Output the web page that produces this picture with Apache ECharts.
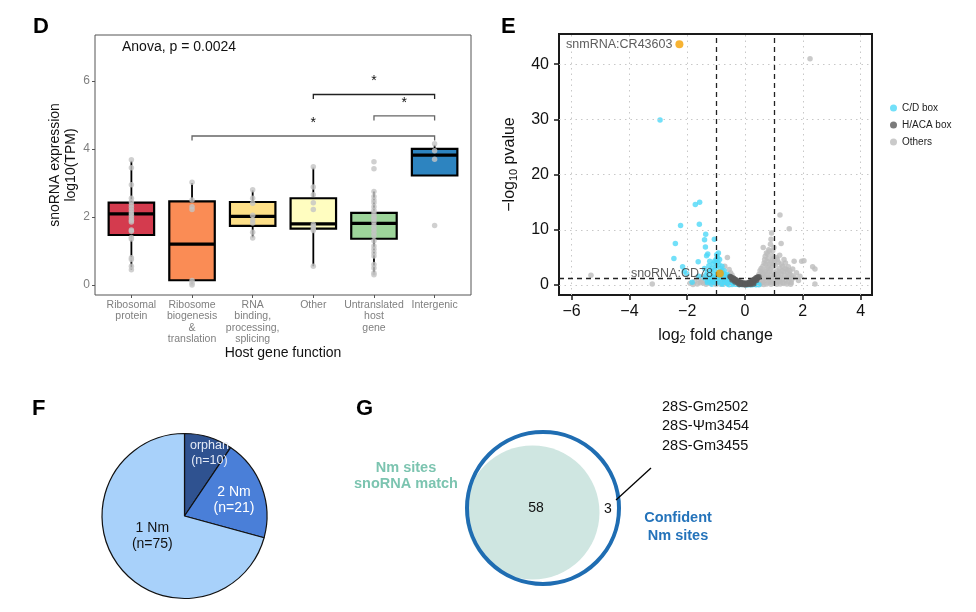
<!DOCTYPE html>
<html><head><meta charset="utf-8">
<script src="https://cdn.jsdelivr.net/npm/echarts@6/dist/echarts.min.js"></script>
<style>html,body{margin:0;padding:0;background:#fff}#c{width:976px;height:612px}</style>
</head><body><div id="c"></div><script>
// ---------- Panel D data ----------
const hostCategories = ['Ribosomal\nprotein', 'Ribosome\nbiogenesis\n&\ntranslation', 'RNA\nbinding,\nprocessing,\nsplicing', 'Other', 'Untranslated\nhost\ngene', 'Intergenic'];
// [lower whisker, Q1, median, Q3, upper whisker]
const boxStats = [
  [0.45, 1.47, 2.09, 2.42, 3.65],
  [0.02, 0.14, 1.20, 2.46, 3.00],
  [1.40, 1.74, 2.02, 2.44, 2.78],
  [0.55, 1.66, 1.80, 2.55, 3.45],
  [0.30, 1.36, 1.81, 2.12, 2.75],
  [3.22, 3.22, 3.82, 4.00, 4.12]
];
const boxColors = ['#D43B4E', '#FA8C55', '#FDDF88', '#FFFDC0', '#9DD49A', '#2D84C0'];
const groupPoints = [
  [3.68, 3.45, 2.95, 2.55, 2.45, 2.35, 2.28, 2.2, 2.12, 2.05, 1.98, 1.9, 1.85, 1.62, 1.58, 1.4, 1.35, 0.8, 0.75, 0.55, 0.45],
  [3.02, 2.5, 2.3, 2.22, 0.13, 0.05, 0.0],
  [2.8, 2.55, 2.4, 2.05, 1.92, 1.82, 1.55, 1.38],
  [3.48, 2.88, 2.65, 2.42, 2.22, 1.78, 1.72, 1.65, 1.6, 0.55],
  [3.62, 3.42, 2.75, 2.6, 2.5, 2.42, 2.3, 2.2, 2.12, 2.02, 1.95, 1.85, 1.75, 1.65, 1.55, 1.45, 1.3, 1.15, 1.05, 0.95, 0.85, 0.6, 0.5, 0.35, 0.3],
  [4.15, 3.95, 3.7, 1.75]
];
// significance comparisons: [from group, to group, bracket height, label]
const comparisons = [
  [2, 6, 4.38, '*'],
  [5, 6, 4.97, '*'],
  [4, 6, 5.60, '*']
];
const yTicksD = [0, 2, 4, 6];

// ---------- Panel E data ----------
const othersData = [
  [2.25,41.0],[-5.33,1.75],[-3.21,0.2],[1.21,12.7],[1.53,10.2],[1.25,7.5],[0.92,9.4],[0.9,8.3],[0.63,6.8],[0.85,6.1],[0.78,5.6],[0.95,5.3],[1.7,4.3],[1.96,4.3],[2.04,4.4],[2.34,3.3],[2.42,2.9],[2.42,0.2],[-0.61,5.0],[-0.7,3.4],
  [0.45,0.5],[0.5,0.9],[0.55,1.3],[0.6,1.7],[0.65,2.1],[0.7,2.5],[0.75,2.9],[0.8,3.3],[0.85,3.7],[0.9,4.1],[0.95,4.5],[1.0,4.9],[0.6,0.3],[0.7,0.8],[0.8,1.3],[0.9,1.8],[1.0,2.2],[1.1,2.6],[1.2,3.0],[1.3,3.4],[0.75,0.2],[0.9,0.6],[1.05,1.1],[1.15,1.5],[1.25,2.0],[1.35,2.4],[1.45,2.8],[1.0,0.3],[1.2,0.7],[1.3,1.1],[1.45,1.5],[1.55,2.0],[1.1,0.15],[1.35,0.25],[1.5,0.6],[1.62,1.0],[0.72,3.8],[0.76,4.3],[0.8,4.8],[1.05,3.6],[1.15,4.1],[1.08,5.0],[0.96,6.2],[1.4,4.0],[1.5,3.3],[1.65,2.9],[1.78,2.2],[1.7,1.4],[1.85,0.8],[1.6,0.4],[1.9,1.6],[0.55,0.2],[0.35,0.3],[0.4,0.8],[0.5,1.5],[0.58,2.4],[1.25,3.8],[1.35,4.6],[1.2,5.4],[1.0,6.8],[0.88,7.4],
  [0.35,0.6],[0.42,1.0],[0.48,1.9],[0.52,2.6],[0.56,3.0],[0.62,3.4],[0.66,4.0],[0.68,4.6],[0.7,5.2],[0.74,5.8],[0.82,6.4],[0.62,0.6],[0.68,1.2],[0.74,1.6],[0.78,2.0],[0.84,2.4],[0.88,2.8],[0.94,3.2],[0.98,3.8],[1.02,4.3],[1.12,4.6],[0.82,0.4],[0.86,1.0],[0.96,1.4],[1.02,1.7],[1.08,2.0],[1.18,2.3],[1.28,2.6],[1.38,3.0],[1.08,0.5],[1.18,1.0],[1.25,1.4],[1.38,1.8],[1.48,2.3],[1.55,2.6],[1.3,0.4],[1.42,0.9],[1.55,1.3],[1.62,1.7],[1.45,0.2],[0.65,0.1],[0.9,0.15],[1.22,0.2],[1.58,0.15],
  [-1.65,0.2],[-1.45,0.35],[-1.3,0.55],[-1.15,0.8],[-1.5,0.7],[-1.35,0.15],[-1.0,0.1],[-0.8,0.15],[-0.55,0.7],[-0.6,0.3],[-0.5,2.2],[-0.55,2.8],[-0.45,1.8],
  [-1.9,0.3],[-1.75,0.6],[-1.6,1.0],[-1.45,1.5],[-1.8,0.1],[-1.55,0.4],[-1.2,0.3],[-1.1,0.5],[-0.95,0.8],[-0.85,0.4],[-0.7,0.7],[-0.65,1.2],[-0.55,1.6]
];
const cdBoxData = [
  [-2.94,29.9],[-1.72,14.6],[-1.57,15.0],[-2.23,10.8],[-1.58,11.0],[-1.36,9.2],[-1.06,8.3],[-1.4,8.2],[-2.41,7.5],[-1.37,6.9],[-0.92,5.8],[-1.29,5.6],[-1.33,5.3],[-2.46,4.8],[-1.62,4.2],[-1.22,4.3],[-2.16,3.3],[-2.02,2.1],[-2.1,2.5],[-1.83,0.5],[-1.4,3.0],[-1.6,1.6],
  [-1.0,4.6],[-0.95,4.1],[-0.9,3.7],[-1.0,3.3],[-0.85,3.0],[-1.05,2.7],[-0.8,2.6],[-0.92,2.3],[-0.74,2.1],[-1.1,2.0],[-0.68,1.8],[-0.82,1.6],[-1.0,1.45],[-0.64,1.4],[-0.9,1.15],[-0.58,1.1],[-1.2,1.0],[-0.75,0.9],[-0.52,0.85],[-1.3,0.7],[-0.92,0.6],[-0.48,0.6],[-0.7,0.4],[-0.4,0.35],[-1.05,0.35],[-0.6,0.2],[-0.3,0.15],[-0.45,0.1],[0.15,0.05],[0.3,0.15],[0.38,0.05],[-1.4,1.25],[-1.15,1.5],[-0.2,0.05],[0.05,0.0],[0.25,0.05],
  [-1.3,0.4],[-1.2,0.6],[-1.25,1.4],[-1.35,1.8],[-1.3,2.3],[-1.2,2.6],[-1.15,3.0],[-1.25,3.5],[-1.1,3.8],[-1.05,4.3],[-0.95,5.0],[-0.98,5.5],[-0.88,4.6],[-0.8,3.4],[-0.72,2.6],[-0.62,1.9],[-0.55,1.5],[-0.45,1.0],[-0.38,0.8],[-0.3,0.5],[-0.2,0.3],[-0.1,0.1],[0.0,0.15],[0.2,0.1],[0.42,0.2],[0.48,0.05],[-0.85,0.2],[-0.75,0.15],[-0.55,0.05],[-1.15,0.15],[-0.95,1.9],[-0.88,1.4],[-0.78,1.2],[-0.7,1.0],[-1.05,1.2],[-1.1,0.9],[-0.62,0.7],[-0.35,0.2]
];
const hacaBoxData = [
  [-0.5,1.4],[-0.46,1.25],[-0.42,1.1],[-0.38,0.95],[-0.34,0.8],[-0.29,0.65],[-0.23,0.5],[-0.17,0.38],[-0.11,0.27],[-0.05,0.18],[0,0.12],[0.05,0.14],[0.1,0.2],[0.15,0.3],[0.2,0.42],[0.25,0.56],[0.3,0.72],[0.34,0.9],[0.38,1.05],[0.42,1.2],[0.46,1.3],[-0.35,0.55],[-0.25,0.35],[-0.15,0.2],[0.2,0.25],[0.3,0.45],[-0.45,0.9],[0.4,0.8],[-0.1,0.1],[0.1,0.1],
  [-0.52,1.55],[-0.48,1.45],[-0.4,1.25],[-0.36,1.1],[-0.31,0.95],[-0.26,0.78],[-0.2,0.62],[-0.14,0.5],[-0.08,0.4],[0,0.35],[0.08,0.38],[0.14,0.48],[0.19,0.6],[0.24,0.75],[0.29,0.92],[0.33,1.1],[0.38,1.3],[0.43,1.45],[0.48,1.5],[-0.2,0.1],[0.2,0.1],[0,0],[0.3,0.2]
];
const highlightData = [[-2.27, 43.6, 'snmRNA:CR43603'], [-0.87, 2.1, 'snoRNA:CD78']];
const xTicksE = [-6, -4, -2, 0, 2, 4];
const yTicksE = [0, 10, 20, 30, 40];
const fcCutoffs = [-1, 1];
const pCutoff = 1.3;

// ---------- Panel F data ----------
const pieNames = ['orphan', '2 Nm', '1 Nm'];
const pieCounts = [10, 21, 75];
const pieColors = ['#2F5290', '#4A7FD8', '#A8D1FA'];

// ---------- Panel G data ----------
const vennCounts = { matched: 58, unmatched: 3 };
const unmatchedSites = ['28S-Gm2502', '28S-\u03A8m3454', '28S-Gm3455'];

const FONT = '"Liberation Sans", Arial, Helvetica, sans-serif';
const chart = echarts.init(document.getElementById('c'), null, { renderer: 'canvas' });

const boxWidth = 0.75;
const option = {
  animation: false,
  backgroundColor: '#ffffff',
  textStyle: { fontFamily: FONT },
  grid: [
    { left: 95, top: 35, width: 376, height: 260, show: true, borderColor: '#555', borderWidth: 1, backgroundColor: 'rgba(0,0,0,0)' },
    { left: 559, top: 34, width: 313, height: 261, show: true, borderColor: '#1a1a1a', borderWidth: 2, backgroundColor: 'rgba(0,0,0,0)' },
    { left: 440, top: 420, width: 200, height: 180, show: false }
  ],
  xAxis: [
    {
      gridIndex: 0, type: 'value', min: 0.4, max: 6.6,
      axisLine: { show: false, onZero: false }, splitLine: { show: false },
      axisTick: { show: true, customValues: [1, 2, 3, 4, 5, 6], length: 3, lineStyle: { color: '#555' } },
      axisLabel: { customValues: [1, 2, 3, 4, 5, 6], formatter: v => hostCategories[Math.round(v) - 1], color: '#7f7f7f', fontSize: 10.5, lineHeight: 11.5, margin: 4 },
      name: 'Host gene function', nameLocation: 'middle', nameGap: 49,
      nameTextStyle: { fontSize: 14, color: '#111' }
    },
    {
      gridIndex: 1, type: 'value', min: -6.436, max: 4.394,
      axisLine: { show: false, onZero: false }, splitLine: { show: false },
      axisTick: { show: true, customValues: xTicksE, length: 5, lineStyle: { color: '#1a1a1a', width: 1.5 } },
      axisLabel: { customValues: xTicksE, formatter: v => String(v).replace('-', '\u2212'), color: '#111', fontSize: 16, margin: 9 },
      name: '{n|log}{s|2}{n| fold change}', nameLocation: 'middle', nameGap: 31,
      nameTextStyle: { rich: { n: { fontSize: 16, color: '#111' }, s: { fontSize: 11, color: '#111', padding: [8, 0, 0, 0] } } }
    },
    { gridIndex: 2, type: 'value', min: 0, max: 200, show: false }
  ],
  yAxis: [
    {
      gridIndex: 0, type: 'value', min: -0.294, max: 7.35,
      axisLine: { show: false, onZero: false }, splitLine: { show: false },
      axisTick: { show: true, customValues: yTicksD, length: 3, lineStyle: { color: '#555' } },
      axisLabel: { customValues: yTicksD, color: '#7f7f7f', fontSize: 12, margin: 5 },
      name: 'snoRNA expression\nlog10(TPM)', nameLocation: 'middle', nameGap: 14,
      nameTextStyle: { fontSize: 14, color: '#111', lineHeight: 16 }
    },
    {
      gridIndex: 1, type: 'value', min: -1.812, max: 45.47,
      axisLine: { show: false, onZero: false }, splitLine: { show: false },
      axisTick: { show: true, customValues: yTicksE, length: 5, lineStyle: { color: '#1a1a1a', width: 1.5 } },
      axisLabel: { customValues: yTicksE, color: '#111', fontSize: 16, margin: 10 },
      name: '{n|\u2212log}{s|10}{n| pvalue}', nameLocation: 'middle', nameGap: 40,
      nameTextStyle: { rich: { n: { fontSize: 16, color: '#111' }, s: { fontSize: 11, color: '#111', padding: [8, 0, 0, 0] } } }
    },
    { gridIndex: 2, type: 'value', min: 0, max: 180, inverse: true, show: false }
  ],
  legend: {
    data: ['C/D box', 'H/ACA box', 'Others'],
    orient: 'vertical', left: 885, top: 98,
    itemWidth: 7, itemHeight: 7, itemGap: 7, icon: 'circle',
    textStyle: { fontSize: 10, color: '#222' }
  },
  series: [
    // ---- D: boxes
    {
      type: 'custom', xAxisIndex: 0, yAxisIndex: 0, z: 2,
      data: boxStats.map((s, i) => [i + 1].concat(s)),
      encode: { x: 0, y: [1, 2, 3, 4, 5] },
      renderItem: function (params, api) {
        const x = api.value(0);
        const lo = api.coord([x, api.value(1)]);
        const q1 = api.coord([x, api.value(2)]);
        const md = api.coord([x, api.value(3)]);
        const q3 = api.coord([x, api.value(4)]);
        const hi = api.coord([x, api.value(5)]);
        const half = api.size([boxWidth, 0])[0] / 2;
        return {
          type: 'group', children: [
            { type: 'line', shape: { x1: lo[0], y1: lo[1], x2: q1[0], y2: q1[1] }, style: { stroke: '#000', lineWidth: 1.8 } },
            { type: 'line', shape: { x1: q3[0], y1: q3[1], x2: hi[0], y2: hi[1] }, style: { stroke: '#000', lineWidth: 1.8 } },
            { type: 'rect', shape: { x: q1[0] - half, y: q3[1], width: 2 * half, height: q1[1] - q3[1] }, style: { fill: boxColors[params.dataIndex], stroke: '#000', lineWidth: 2.2 } },
            { type: 'line', shape: { x1: q1[0] - half, y1: md[1], x2: q1[0] + half, y2: md[1] }, style: { stroke: '#000', lineWidth: 3.2 } }
          ]
        };
      }
    },
    // ---- D: points
    {
      type: 'scatter', xAxisIndex: 0, yAxisIndex: 0, z: 3, symbolSize: 5.5,
      itemStyle: { color: '#C4C4C4' },
      data: groupPoints.flatMap((g, i) => g.map(v => [i + 1, v]))
    },
    // ---- D: significance brackets
    {
      type: 'custom', xAxisIndex: 0, yAxisIndex: 0, z: 3,
      data: comparisons.map(c => [c[0], c[1], c[2]]),
      renderItem: function (params, api) {
        const x1 = api.value(0), x2 = api.value(1), y = api.value(2);
        const a = api.coord([x1, y]), b = api.coord([x2, y]);
        const drop = 4.5;
        const col = params.dataIndex === 2 ? '#222' : '#666';
        return {
          type: 'group', children: [
            { type: 'polyline', shape: { points: [[a[0], a[1] + drop], a, b, [b[0], b[1] + drop]] }, style: { stroke: col, lineWidth: 1.3, fill: null } },
            { type: 'text', style: { text: comparisons[params.dataIndex][3], x: (a[0] + b[0]) / 2, y: a[1] - 6, align: 'center', verticalAlign: 'bottom', fontSize: 14, fill: '#111', font: '14px ' + FONT } }
          ]
        };
      }
    },
    // ---- E: dotted grid lines
    {
      type: 'scatter', xAxisIndex: 1, yAxisIndex: 1, z: 1, data: [], silent: true,
      markLine: {
        silent: true, symbol: 'none', label: { show: false }, animation: false,
        lineStyle: { type: [1.5, 4], color: '#c8c8c8', width: 1 },
        data: xTicksE.map(v => ({ xAxis: v })).concat(yTicksE.map(v => ({ yAxis: v })))
      }
    },
    {
      name: 'Others', type: 'scatter', xAxisIndex: 1, yAxisIndex: 1, z: 3, symbolSize: 5.5,
      itemStyle: { color: '#BDBDBD' }, data: othersData
    },
    {
      name: 'C/D box', type: 'scatter', xAxisIndex: 1, yAxisIndex: 1, z: 4, symbolSize: 5.5,
      itemStyle: { color: '#4FD8F8' }, data: cdBoxData
    },
    {
      name: 'H/ACA box', type: 'scatter', xAxisIndex: 1, yAxisIndex: 1, z: 5, symbolSize: 5.5,
      itemStyle: { color: '#5A5A5A' }, data: hacaBoxData
    },
    // ---- E: cutoff lines
    {
      type: 'scatter', xAxisIndex: 1, yAxisIndex: 1, z: 6, data: [], silent: true,
      markLine: {
        silent: true, symbol: 'none', label: { show: false }, animation: false,
        lineStyle: { type: [5, 4], color: '#222', width: 1.3 },
        data: fcCutoffs.map(v => ({ xAxis: v })).concat([{ yAxis: pCutoff }])
      }
    },
    // ---- E: highlighted snoRNAs
    {
      name: 'highlight', type: 'scatter', xAxisIndex: 1, yAxisIndex: 1, z: 7, symbolSize: 8,
      itemStyle: { color: '#F5A000' },
      data: highlightData.map(d => ({ value: [d[0], d[1]], name: d[2] })),
      label: { show: true, position: 'left', distance: 3, formatter: p => p.name, fontSize: 12.5, color: '#333' }
    },
    // ---- F: pie
    {
      type: 'pie', center: [184.5, 516], radius: 82.5, startAngle: 90, clockwise: true,
      data: pieNames.map((n, i) => ({ name: n, value: pieCounts[i], itemStyle: { color: pieColors[i] },
        label: i === 0 ? { fontSize: 12.5, lineHeight: 15, color: '#E4EAF6' } : (i === 2 ? { color: '#111' } : {}) })),
      itemStyle: { borderColor: '#111', borderWidth: 1.2 },
      label: {
        show: true, position: 'inside', lineHeight: 16,
        formatter: p => p.name + '\n(n=' + p.value + ')',
        fontSize: 14, color: '#fff'
      },
      labelLine: { show: false },
      emphasis: { disabled: true },
      labelLayout: function (p) {
        const shift = [[12, -21], [8, 0], [3, -7]][p.dataIndex];
        return { dx: shift[0], dy: shift[1] };
      }
    },
    // ---- G: venn circles
    {
      type: 'custom', xAxisIndex: 2, yAxisIndex: 2, z: 2, silent: true,
      // [cx, cy, r] layout in grid units (1 unit = 1 px)
      data: [[92.5, 92.5, 67], [103, 88, 76]],
      renderItem: function (params, api) {
        const c = api.coord([api.value(0), api.value(1)]);
        const r = api.size([api.value(2), 0])[0];
        if (params.dataIndex === 0) {
          return { type: 'circle', shape: { cx: c[0], cy: c[1], r: r }, style: { fill: '#CFE6E1', stroke: null } };
        }
        return { type: 'circle', shape: { cx: c[0], cy: c[1], r: r }, style: { fill: null, stroke: '#1F6DB2', lineWidth: 4 } };
      }
    }
  ],
  graphic: { elements: [
    { type: 'text', z: 100, left: 33, top: 16, style: { text: 'D', font: 'bold 22px ' + FONT, fill: '#000' } },
    { type: 'text', z: 100, left: 501, top: 16, style: { text: 'E', font: 'bold 22px ' + FONT, fill: '#000' } },
    { type: 'text', z: 100, left: 32, top: 398, style: { text: 'F', font: 'bold 22px ' + FONT, fill: '#000' } },
    { type: 'text', z: 100, left: 356, top: 398, style: { text: 'G', font: 'bold 22px ' + FONT, fill: '#000' } },
    { type: 'text', z: 100, left: 122, top: 40, style: { text: 'Anova, p = 0.0024', font: '14px ' + FONT, fill: '#111' } },
    // venn texts
    { type: 'text', z: 100, x: 536, y: 508, style: { text: String(vennCounts.matched), font: '14px ' + FONT, fill: '#111', align: 'center', verticalAlign: 'middle' } },
    { type: 'text', z: 100, x: 608, y: 509, style: { text: String(vennCounts.unmatched), font: '14px ' + FONT, fill: '#111', align: 'center', verticalAlign: 'middle' } },
    { type: 'line', z: 100, shape: { x1: 616, y1: 500, x2: 651, y2: 468 }, style: { stroke: '#000', lineWidth: 1.3 } },
    { type: 'text', z: 100, x: 662, y: 426, style: { text: unmatchedSites.join('\n'), font: '14.5px ' + FONT, lineHeight: 19.5, fill: '#111', align: 'left', verticalAlign: 'middle' } },
    { type: 'text', z: 100, x: 406, y: 476, style: { text: 'Nm sites\nsnoRNA match', font: 'bold 14.5px ' + FONT, lineHeight: 16.5, fill: '#7CC4B0', align: 'center', verticalAlign: 'middle' } },
    { type: 'text', z: 100, x: 678, y: 527, style: { text: 'Confident\nNm sites', font: 'bold 14.5px ' + FONT, lineHeight: 18, fill: '#2473BA', align: 'center', verticalAlign: 'middle' } }
  ] }
};
chart.setOption(option);
</script></body></html>
